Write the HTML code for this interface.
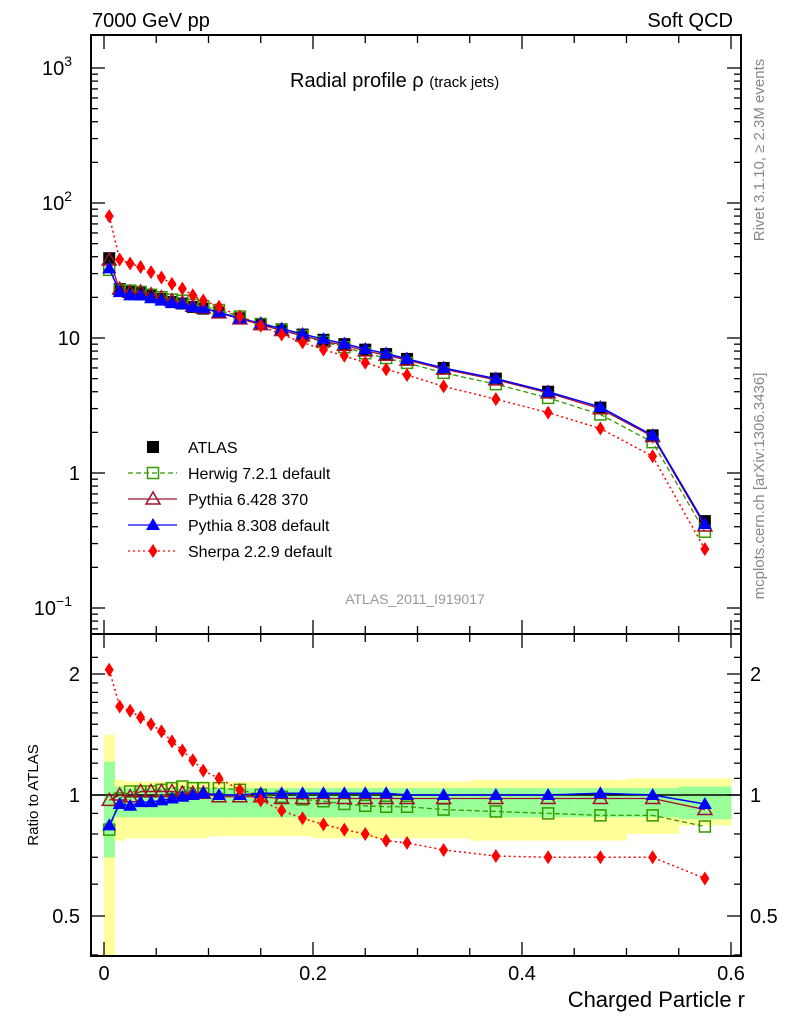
<!DOCTYPE html>
<html><head><meta charset="utf-8"><style>
body{margin:0;background:#fff;}
svg{display:block;font-family:"Liberation Sans",sans-serif;}
</style></head><body>
<svg id="chart" width="786" height="1024" xmlns="http://www.w3.org/2000/svg"></svg>
<script>
const binEdges=[0,0.01,0.02,0.03,0.04,0.05,0.06,0.07,0.08,0.09,0.1,0.12,0.14,0.16,0.18,0.2,0.22,0.24,0.26,0.28,0.3,0.35,0.4,0.45,0.5,0.55,0.6];
const atlas=[39,23,22,21.5,20.5,19.5,18.5,18,17,16.5,15.5,14,12.7,11.6,10.6,9.7,9.0,8.2,7.6,7.0,6.0,5.0,4.0,3.05,1.9,0.44];
const herwigRatio=[0.82,0.98,1.02,1.02,1.02,1.03,1.04,1.05,1.04,1.04,1.04,1.03,1.0,0.99,0.975,0.965,0.95,0.94,0.935,0.935,0.92,0.91,0.90,0.89,0.89,0.835];
const py6Ratio=[0.97,1.0,0.99,1.02,1.02,1.02,1.02,1.01,1.01,1.01,0.99,0.99,0.99,0.98,0.98,0.98,0.98,0.98,0.98,0.98,0.98,0.98,0.98,0.98,0.98,0.92];
const py8Ratio=[0.84,0.95,0.94,0.96,0.96,0.97,0.98,0.99,1.0,1.01,1.0,1.0,1.01,1.01,1.01,1.01,1.01,1.01,1.01,1.0,1.0,1.0,1.0,1.01,1.0,0.95];
const sherpaRatio=[2.05,1.66,1.62,1.56,1.5,1.44,1.36,1.29,1.22,1.15,1.10,1.03,0.97,0.915,0.875,0.845,0.82,0.80,0.77,0.76,0.73,0.705,0.70,0.70,0.70,0.62];
const yellowHi=[1.41,1.09,1.08,1.08,1.08,1.08,1.08,1.08,1.08,1.08,1.08,1.08,1.08,1.08,1.08,1.08,1.08,1.08,1.08,1.08,1.08,1.09,1.09,1.09,1.10,1.10];
const yellowLo=[0.35,0.77,0.78,0.78,0.78,0.78,0.78,0.78,0.78,0.78,0.79,0.79,0.79,0.79,0.79,0.78,0.78,0.78,0.78,0.78,0.78,0.77,0.77,0.77,0.80,0.84];
const greenHi=[1.21,1.05,1.04,1.04,1.04,1.04,1.04,1.04,1.04,1.04,1.04,1.04,1.04,1.04,1.04,1.04,1.04,1.04,1.04,1.04,1.04,1.04,1.04,1.04,1.04,1.05];
const greenLo=[0.70,0.88,0.88,0.88,0.88,0.88,0.88,0.88,0.88,0.88,0.88,0.88,0.88,0.88,0.88,0.88,0.88,0.88,0.88,0.88,0.88,0.88,0.88,0.88,0.88,0.87];
const xTicks=[0,0.2,0.4,0.6];
const xTickLabels=["0","0.2","0.4","0.6"];

const NS="http://www.w3.org/2000/svg";
const svg=document.getElementById('chart');
const L=91,R=741,T=35,MB=634,RB=956;
const X=v=>104+v*1045;
const Y=v=>473-Math.log10(v)*135;
const YR=v=>795-Math.log2(v)*121;
function el(tag,attrs,parent){const e=document.createElementNS(NS,tag);for(const k in attrs)e.setAttribute(k,attrs[k]);(parent||svg).appendChild(e);return e;}
function txt(s,attrs){const e=el('text',attrs);e.textContent=s;return e;}
const centers=atlas.map((_,i)=>(binEdges[i]+binEdges[i+1])/2);

const bands=el('g',{});


centers.forEach((c,i)=>{
  const x0=X(binEdges[i]),x1=X(binEdges[i+1]);
  const y1=Math.max(YR(yellowHi[i]),MB),y2=Math.min(YR(yellowLo[i]),RB);
  const r=el('rect',{x:x0,y:y1,width:x1-x0+0.5,height:y2-y1,fill:'#ffff99'},bands);
  
  
  const g1=YR(greenHi[i]),g2=YR(greenLo[i]);
  const g=el('rect',{x:x0,y:g1,width:x1-x0+0.5,height:g2-g1,fill:'#99ff99'},bands);
  
  
});
el('line',{x1:L,x2:R,y1:YR(1),y2:YR(1),stroke:'#000','stroke-width':1.5});

function marker(g,type,x,y,color){
  if(type==='sq')el('rect',{x:x-6,y:y-6,width:12,height:12,fill:'#000'},g);
  else if(type==='osq')el('rect',{x:x-5.5,y:y-5.5,width:11,height:11,fill:'none',stroke:color,'stroke-width':1.5},g);
  else if(type==='otri')el('polygon',{points:`${x},${y-7} ${x-7},${y+5} ${x+7},${y+5}`,fill:'none',stroke:color,'stroke-width':1.5},g);
  else if(type==='tri')el('polygon',{points:`${x},${y-7} ${x-7},${y+5} ${x+7},${y+5}`,fill:color},g);
  else if(type==='dia')el('polygon',{points:`${x},${y-7} ${x-4.5},${y} ${x},${y+7} ${x+4.5},${y}`,fill:color},g);
}
const series=[
 {name:'herwig',ratio:herwigRatio,color:'#339900',dash:'5,3',m:'osq',w:1.3},
 {name:'pythia6',ratio:py6Ratio,color:'#a01030',dash:'',m:'otri',w:1.3},
 {name:'pythia8',ratio:py8Ratio,color:'#0000ff',dash:'',m:'tri',w:1.5},
 {name:'sherpa',ratio:sherpaRatio,color:'#ff0000',dash:'2,3',m:'dia',w:1.5},
];
const ag=el('g',{});


centers.forEach((c,i)=>marker(ag,'sq',X(c),Y(atlas[i])));
series.forEach(s=>{
  const g=el('g',{});
  
  
  const vals=s.ratio.map((r,i)=>r*atlas[i]);
  el('polyline',{points:centers.map((c,i)=>X(c)+','+Y(vals[i])).join(' '),fill:'none',stroke:s.color,'stroke-width':s.w,'stroke-dasharray':s.dash},g);
  centers.forEach((c,i)=>marker(g,s.m,X(c),Y(vals[i]),s.color));
  const gr=el('g',{});
  
  
  el('polyline',{points:centers.map((c,i)=>X(c)+','+YR(s.ratio[i])).join(' '),fill:'none',stroke:s.color,'stroke-width':s.w,'stroke-dasharray':s.dash},gr);
  centers.forEach((c,i)=>marker(gr,s.m,X(c),YR(s.ratio[i]),s.color));
});

el('rect',{x:L,y:T,width:R-L,height:MB-T,fill:'none',stroke:'#000','stroke-width':2});
el('rect',{x:L,y:MB,width:R-L,height:RB-MB,fill:'none',stroke:'#000','stroke-width':2});
for(let k=0;k<=12;k++){const v=k*0.05,x=X(v),big=(k%4===0),len=big?14:8;
  [[T,1],[MB,-1],[MB,1],[RB,-1]].forEach(([y,d])=>el('line',{x1:x,x2:x,y1:y,y2:y+d*len,stroke:'#000','stroke-width':1.3}));}
xTicks.forEach((v,i)=>{const t=txt(xTickLabels[i],{x:X(v),y:980,'font-size':20,'text-anchor':'middle'});
  });
for(let d=-2;d<=3;d++){for(let m=1;m<10;m++){const v=m*Math.pow(10,d),y=Y(v);if(y<T||y>MB)continue;const len=m===1?14:7;
  el('line',{x1:L,x2:L+len,y1:y,y2:y,stroke:'#000','stroke-width':1.3});el('line',{x1:R,x2:R-len,y1:y,y2:y,stroke:'#000','stroke-width':1.3});}}
[[1000,'10','3'],[100,'10','2'],[10,'10',''],[1,'1',''],[0.1,'10','−1']].forEach(([v,b,e])=>{
  const t=el('text',{x:e?72:80,y:Y(v)+7,'font-size':20,'text-anchor':'end'});
  
  t.textContent=b;if(e){const s=el('tspan',{dy:-9,'font-size':14},t);s.textContent=e;}});
[0.4,0.5,0.6,0.7,0.8,0.9,1,1.1,1.2,1.3,1.4,1.5,1.6,1.7,1.8,1.9,2,2.2].forEach(v=>{const y=YR(v);if(y<MB||y>RB)return;const len=(v===0.5||v===1||v===2)?14:7;
  el('line',{x1:L,x2:L+len,y1:y,y2:y,stroke:'#000','stroke-width':1.3});el('line',{x1:R,x2:R-len,y1:y,y2:y,stroke:'#000','stroke-width':1.3});});
[[2,'2'],[1,'1'],[0.5,'0.5']].forEach(([v,s])=>{
  const a=txt(s,{x:80,y:YR(v)+7,'font-size':20,'text-anchor':'end'});
  const b=txt(s,{x:750,y:YR(v)+7,'font-size':20});});

let t;
t=txt('7000 GeV pp',{x:92,y:27,'font-size':20});
t=txt('Soft QCD',{x:733,y:27,'font-size':20,'text-anchor':'end'});
t=el('text',{x:290,y:87,'font-size':20});
t.innerHTML='Radial profile ρ <tspan font-size="15">(track jets)</tspan>';
t=txt('ATLAS_2011_I919017',{x:415,y:604,'font-size':14,fill:'#999','text-anchor':'middle'});
t=txt('Rivet 3.1.10, ≥ 2.3M events',{x:0,y:0,'font-size':15,fill:'#888','text-anchor':'middle',transform:'translate(764,150) rotate(-90)'});
t=txt('mcplots.cern.ch [arXiv:1306.3436]',{x:0,y:0,'font-size':15,fill:'#888','text-anchor':'middle',transform:'translate(764,486) rotate(-90)'});
t=txt('Ratio to ATLAS',{x:0,y:0,'font-size':15,'text-anchor':'middle',transform:'translate(38,795) rotate(-90)'});
t=txt('Charged Particle r',{x:745,y:1007,'font-size':22,'text-anchor':'end'});

const leg=[['ATLAS','#000','','sq'],['Herwig 7.2.1 default','#339900','5,3','osq'],['Pythia 6.428 370','#a01030','','otri'],['Pythia 8.308 default','#0000ff','','tri'],['Sherpa 2.2.9 default','#ff0000','2,3','dia']];
leg.forEach((l,i)=>{const y=447+i*26;const g=el('g',{});
  
  
  if(i>0)el('line',{x1:128,x2:177,y1:y,y2:y,stroke:l[1],'stroke-width':1.3,'stroke-dasharray':l[2]},g);
  marker(g,l[3],153,y,l[1]);
  const tt=el('text',{x:188,y:y+6,'font-size':16},g);tt.textContent=l[0];});
</script>
</body></html>
